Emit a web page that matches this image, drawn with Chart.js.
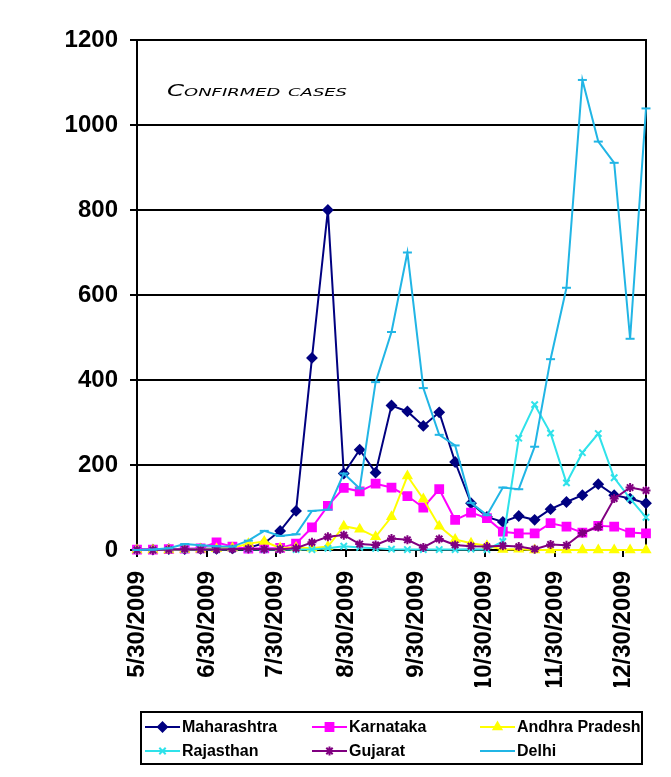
<!DOCTYPE html>
<html>
<head>
<meta charset="utf-8">
<title>Confirmed cases</title>
<script src="https://cdn.jsdelivr.net/npm/chart.js@4.4.1/dist/chart.umd.min.js"></script>
<style>
  html, body { margin: 0; padding: 0; background: #fff; }
  #wrap { width: 671px; height: 777px; }
</style>
</head>
<body>
<div id="wrap"><canvas id="cases" width="671" height="777"></canvas></div>
<script>
// weekly reporting dates (m/d/yyyy)
const weekDates = [
  '5/30/2009', '6/6/2009', '6/13/2009', '6/20/2009', '6/27/2009', '7/4/2009', '7/11/2009',
  '7/18/2009', '7/25/2009', '8/1/2009', '8/8/2009', '8/15/2009', '8/22/2009', '8/29/2009',
  '9/5/2009', '9/12/2009', '9/19/2009', '9/26/2009', '10/3/2009', '10/10/2009', '10/17/2009',
  '10/24/2009', '10/31/2009', '11/7/2009', '11/14/2009', '11/21/2009', '11/28/2009', '12/5/2009',
  '12/12/2009', '12/19/2009', '12/26/2009', '1/2/2010', '1/9/2010'
];
const tickLabels = ['5/30/2009', '6/30/2009', '7/30/2009', '8/30/2009', '9/30/2009', '10/30/2009', '11/30/2009', '12/30/2009'];
const yTicks = [0, 200, 400, 600, 800, 1000, 1200];

const seriesNames = ['Maharashtra', 'Karnataka', 'Andhra Pradesh', 'Rajasthan', 'Gujarat', 'Delhi'];
const maharashtra = [1, 1, 2, 2, 3, 3, 4, 5, 16, 45, 92, 452, 800, 180, 236, 182, 340, 326, 292, 324, 207, 110, 78, 66, 80, 71, 96, 113, 129, 155, 129, 121, 110];
const karnataka = [1, 1, 2, 3, 4, 18, 8, 3, 4, 5, 15, 53, 104, 146, 138, 156, 147, 127, 100, 143, 71, 88, 75, 43, 39, 39, 63, 55, 41, 57, 55, 41, 39];
const andhraPradesh = [0, 0, 0, 1, 2, 3, 5, 15, 20, 5, 6, 4, 8, 56, 49, 31, 78, 174, 120, 56, 25, 16, 10, 1, 2, 0, 0, 0, 0, 0, 0, 0, 0];
const rajasthan = [0, 0, 1, 1, 1, 1, 2, 2, 1, 2, 1, 1, 4, 9, 6, 4, 2, 1, 1, 1, 1, 2, 1, 20, 263, 342, 275, 158, 229, 274, 170, 121, 77];
const gujarat = [0, 0, 1, 2, 1, 1, 2, 3, 2, 2, 4, 18, 31, 35, 14, 12, 27, 24, 6, 26, 12, 9, 8, 10, 8, 2, 13, 11, 40, 54, 121, 147, 140];
const delhi = [0, 1, 4, 14, 11, 9, 8, 22, 45, 33, 37, 92, 95, 180, 145, 395, 513, 700, 381, 271, 246, 111, 82, 147, 143, 243, 449, 617, 1106, 961, 911, 497, 1039];

const seriesValues = [maharashtra, karnataka, andhraPradesh, rajasthan, gujarat, delhi];
const seriesColors = ['#000080', '#FF00FF', '#FFFF00', '#2FE2EA', '#800080', '#21B5E5'];
const seriesMarkers = ['rectRot', 'rect', 'triangle', 'crossRot', 'star', 'line'];

// date axis helpers
function parseDay(s) {
  const [m, d, y] = s.split('/').map(Number);
  return new Date(y, m - 1, d);
}
const startDate = parseDay(weekDates[0]);
function dayOffset(s) {
  return Math.round((parseDay(s) - startDate) / 86400000);
}
const tickDays = tickLabels.map(dayOffset);
const labelByDay = {};
tickLabels.forEach((l, i) => { labelByDay[tickDays[i]] = l; });
const lastDay = dayOffset(weekDates[weekDates.length - 1]);

const axisFont = { family: "'Liberation Sans', Arial, sans-serif", size: 24, weight: 'bold' };

const datasets = seriesNames.map((name, i) => ({
  label: name,
  data: seriesValues[i].map((v, j) => ({ x: dayOffset(weekDates[j]), y: v })),
  borderColor: seriesColors[i],
  backgroundColor: seriesColors[i],
  pointBackgroundColor: seriesColors[i],
  pointBorderColor: seriesColors[i],
  pointStyle: seriesMarkers[i],
  pointRadius: seriesMarkers[i] === 'rect' ? 5.5 : 4.5,
  pointBorderWidth: 2,
  borderWidth: 2,
  tension: 0,
  fill: false,
  clip: 6,
  order: seriesNames.length - i
}));

// right edge of the plot area
const frame = {
  id: 'frame',
  beforeDatasetsDraw(chart) {
    const { ctx, chartArea: a } = chart;
    ctx.save();
    ctx.strokeStyle = '#000';
    ctx.lineWidth = 2;
    ctx.beginPath();
    ctx.moveTo(a.right, a.top - 1);
    ctx.lineTo(a.right, a.bottom + 1);
    ctx.stroke();
    ctx.restore();
  }
};

// "Confirmed cases" note inside the plot
const note = {
  id: 'note',
  afterDraw(chart) {
    const { ctx, chartArea: a } = chart;
    ctx.save();
    ctx.font = "italic small-caps 15px 'DejaVu Sans', sans-serif";
    ctx.fillStyle = '#000';
    ctx.textBaseline = 'alphabetic';
    const w = ctx.measureText('Confirmed cases').width;
    ctx.translate(a.left + 30, a.top + 56);
    ctx.scale(180 / w, 1);
    ctx.fillText('Confirmed cases', 0, 0);
    ctx.restore();
  }
};

// boxed legend, 3 columns x 2 rows
const boxLegend = {
  id: 'boxLegend',
  afterDraw(chart) {
    const ctx = chart.ctx;
    const cols = [145, 312, 480];
    const rows = [727, 751];
    ctx.save();
    ctx.strokeStyle = '#000';
    ctx.lineWidth = 2;
    ctx.strokeRect(141, 712, 501, 52);
    chart.data.datasets.forEach((ds, i) => {
      const x = cols[i % 3];
      const y = rows[Math.floor(i / 3)];
      ctx.strokeStyle = ds.borderColor;
      ctx.fillStyle = ds.borderColor;
      ctx.lineWidth = 2;
      ctx.beginPath();
      ctx.moveTo(x, y);
      ctx.lineTo(x + 35, y);
      ctx.stroke();
      Chart.helpers.drawPoint(ctx, {
        pointStyle: ds.pointStyle, rotation: 0,
        radius: ds.pointRadius, borderWidth: ds.pointBorderWidth
      }, x + 17.5, y);
      ctx.fillStyle = '#000';
      ctx.font = "bold 16px 'Liberation Sans', Arial, sans-serif";
      ctx.textBaseline = 'middle';
      ctx.textAlign = 'left';
      ctx.fillText(ds.label, x + 37, y + 1);
    });
    ctx.restore();
  }
};

new Chart(document.getElementById('cases'), {
  type: 'line',
  data: { datasets },
  plugins: [frame, note, boxLegend],
  options: {
    responsive: false,
    devicePixelRatio: 1,
    animation: false,
    layout: { padding: { top: 40, right: 25, bottom: 90, left: 0 } },
    plugins: {
      legend: { display: false },
      title: { display: false },
      tooltip: { enabled: false }
    },
    scales: {
      x: {
        type: 'linear',
        min: 0,
        max: lastDay,
        grid: { drawOnChartArea: false, color: '#000', lineWidth: 2, tickLength: 7 },
        border: { color: '#000', width: 2 },
        afterBuildTicks: s => { s.ticks = tickDays.map(v => ({ value: v })); },
        afterFit: s => { s.height = 137; },
        ticks: {
          color: '#000',
          font: axisFont,
          autoSkip: false,
          minRotation: 90,
          maxRotation: 90,
          padding: 14,
          callback: v => labelByDay[v] || ''
        }
      },
      y: {
        min: yTicks[0],
        max: yTicks[yTicks.length - 1],
        grid: { color: '#000', lineWidth: 2, tickLength: 7 },
        border: { color: '#000', width: 2 },
        afterBuildTicks: s => { s.ticks = yTicks.map(v => ({ value: v })); },
        afterFit: s => { s.width = 137; },
        ticks: {
          color: '#000',
          font: axisFont,
          padding: 12,
          callback: v => String(v)
        }
      }
    }
  }
});
</script>
</body>
</html>
